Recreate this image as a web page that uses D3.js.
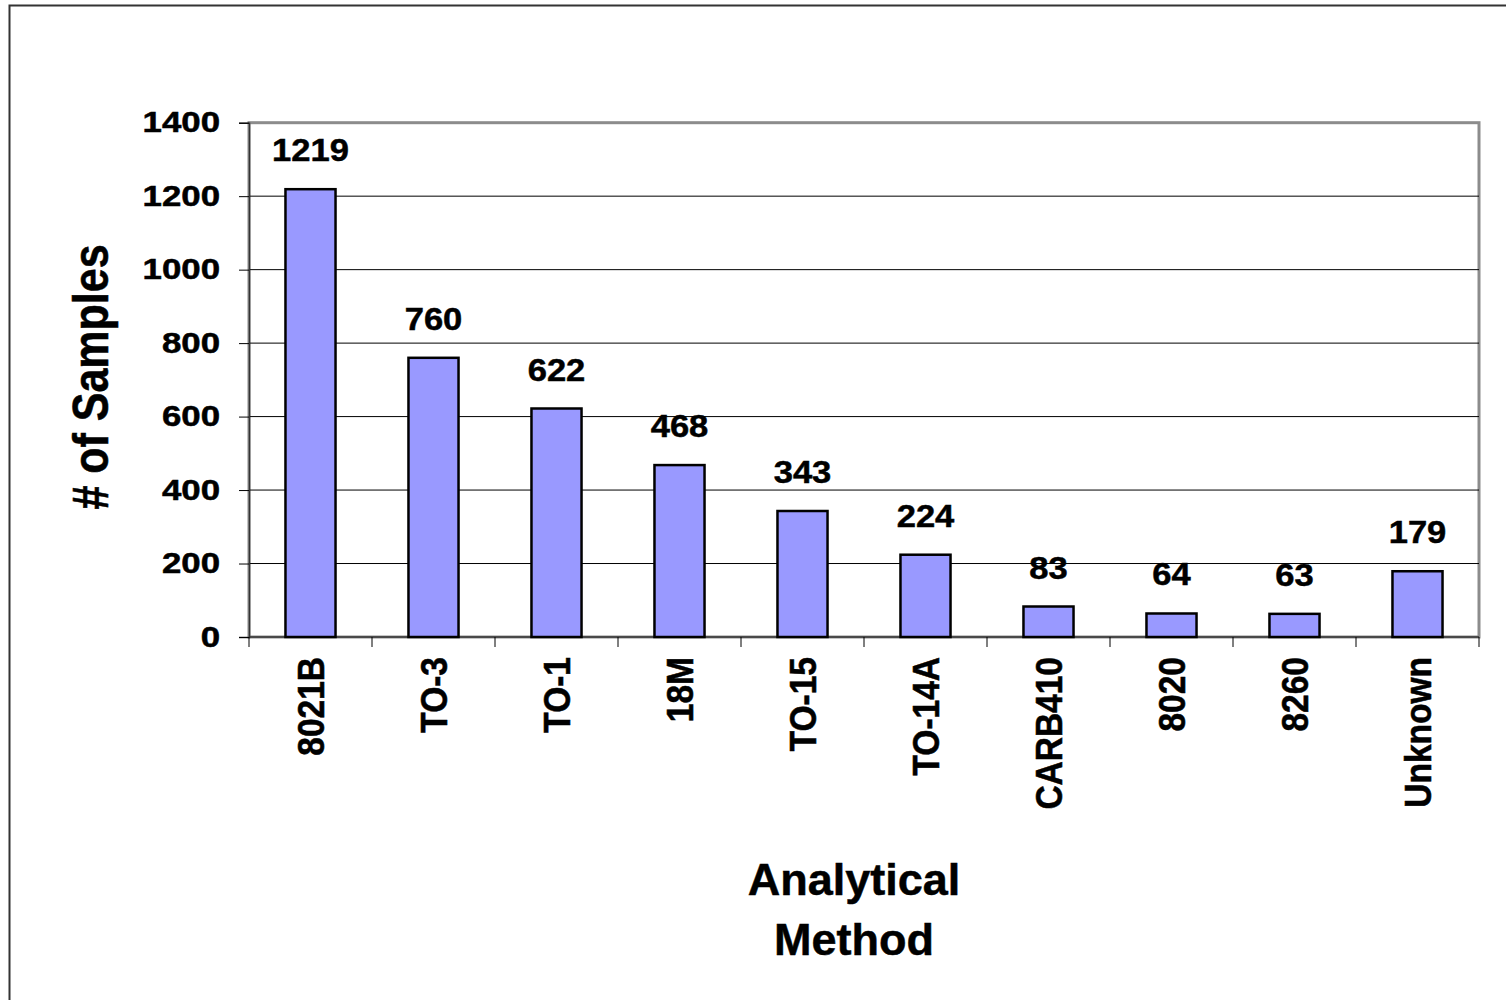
<!DOCTYPE html>
<html>
<head>
<meta charset="utf-8">
<script src="https://cdn.jsdelivr.net/npm/d3@7"></script>
<style>
  html, body { margin: 0; padding: 0; background: #fff; }
  svg { display: block; }
  text { font-family: "Liberation Sans", Arial, sans-serif; font-weight: bold; fill: #000; stroke: #000; stroke-width: 0.5px; }
</style>
</head>
<body>
<script>
// Sample counts per analytical method
const methods = ["8021B", "TO-3", "TO-1", "18M", "TO-15", "TO-14A", "CARB410", "8020", "8260", "Unknown"];
const sampleCounts = [1219, 760, 622, 468, 343, 224, 83, 64, 63, 179];
const yTicks = [0, 200, 400, 600, 800, 1000, 1200, 1400];

const W = 1506, H = 1000;
const plot = { left: 249, right: 1479, top: 122.7, bottom: 637 };
const stretch = 1.15; // wide bold lettering

const svg = d3.select("body").append("svg")
  .attr("width", W).attr("height", H);

// outer chart frame
svg.append("rect")
  .attr("x", 9.5).attr("y", 5.5)
  .attr("width", W + 20).attr("height", H + 20)
  .attr("fill", "#fff").attr("stroke", "#333").attr("stroke-width", 2);

const x = d3.scaleBand()
  .domain(methods)
  .range([plot.left, plot.right])
  .paddingInner(0.593)
  .paddingOuter(0.2965);

const y = d3.scaleLinear()
  .domain([0, 1400])
  .range([plot.bottom, plot.top]);

// plot area border
svg.append("rect")
  .attr("x", plot.left).attr("y", plot.top)
  .attr("width", plot.right - plot.left).attr("height", plot.bottom - plot.top)
  .attr("fill", "none").attr("stroke", "#8c8c8c").attr("stroke-width", 3);

// horizontal gridlines
svg.append("g").selectAll("line")
  .data(yTicks.filter(d => d > 0 && d < 1400))
  .join("line")
  .attr("x1", plot.left).attr("x2", plot.right)
  .attr("y1", d => y(d)).attr("y2", d => y(d))
  .attr("stroke", "#000").attr("stroke-width", 1);

// y axis
const yAxis = svg.append("g")
  .attr("transform", `translate(${plot.left},0)`)
  .call(d3.axisLeft(y).tickValues(yTicks).tickSize(10).tickPadding(19).tickFormat(d3.format("d")));
yAxis.select(".domain").attr("stroke", "#333").attr("stroke-width", 1.5);
yAxis.selectAll(".tick line").attr("stroke", "#000").attr("stroke-width", 1);
yAxis.selectAll(".tick text")
  .attr("x", -29 / 1.2)
  .attr("transform", "scale(1.2,1)")
  .style("font-family", "'Liberation Sans', Arial, sans-serif")
  .style("font-weight", "bold")
  .style("font-size", "29px")
  .attr("fill", "#000");

// x axis baseline and category boundary ticks
const step = x.step();
const boundaries = d3.range(methods.length + 1).map(i => plot.left + i * step);
svg.append("line")
  .attr("x1", plot.left).attr("x2", plot.right)
  .attr("y1", plot.bottom).attr("y2", plot.bottom)
  .attr("stroke", "#333").attr("stroke-width", 1.5);
svg.append("g").selectAll("line")
  .data(boundaries)
  .join("line")
  .attr("x1", d => d).attr("x2", d => d)
  .attr("y1", plot.bottom).attr("y2", plot.bottom + 10)
  .attr("stroke", "#000").attr("stroke-width", 1);

// bars
svg.append("g").selectAll("rect")
  .data(methods)
  .join("rect")
  .attr("x", d => x(d))
  .attr("y", (d, i) => y(sampleCounts[i]))
  .attr("width", x.bandwidth())
  .attr("height", (d, i) => y(0) - y(sampleCounts[i]))
  .attr("fill", "#9999FF")
  .attr("stroke", "#000")
  .attr("stroke-width", 2.5);

// value labels
svg.append("g").selectAll("text")
  .data(methods)
  .join("text")
  .attr("transform", (d, i) => `translate(${x(d) + x.bandwidth() / 2},${y(sampleCounts[i]) - 28}) scale(1.08,1)`)
  .attr("text-anchor", "middle")
  .style("font-size", "32px")
  .text((d, i) => sampleCounts[i]);

// category labels, rotated
svg.append("g").selectAll("text")
  .data(methods)
  .join("text")
  .attr("transform", d => `translate(${x(d) + x.bandwidth() / 2},657) scale(1.1,1) rotate(-90)`)
  .attr("dy", "0.36em")
  .attr("text-anchor", "end")
  .style("font-size", "33.5px")
  .text(d => d);

// axis titles
svg.append("text")
  .attr("transform", `translate(90,377) scale(${stretch},1) rotate(-90)`)
  .attr("dy", "0.36em")
  .attr("text-anchor", "middle")
  .style("font-size", "43px")
  .text("# of Samples");

svg.append("text")
  .attr("x", 854).attr("y", 895)
  .attr("text-anchor", "middle")
  .style("font-size", "45px")
  .text("Analytical");
svg.append("text")
  .attr("x", 854).attr("y", 955)
  .attr("text-anchor", "middle")
  .style("font-size", "45px")
  .text("Method");
</script>
</body>
</html>
